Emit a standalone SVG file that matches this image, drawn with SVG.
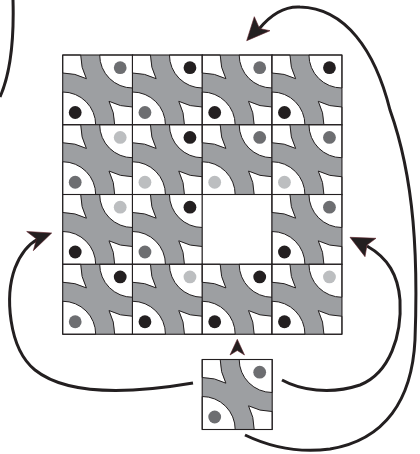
<svg xmlns="http://www.w3.org/2000/svg" xmlns:xlink="http://www.w3.org/1999/xlink" width="420" height="454" viewBox="0 0 420 454">
<style>
.w{fill:#fff;stroke:#231f20;stroke-width:1}
.k{fill:#231f20}
.d{fill:#6d6e71}
.l{fill:#bcbec0}
.conn{fill:none;stroke:#231f20;stroke-width:3;stroke-linecap:butt}
.head{fill:#231f20;stroke:#5e1f27;stroke-width:0.6;stroke-linejoin:miter}
</style>
<defs>
<g id="tb">
<rect width="70" height="70" fill="#9d9fa2"/>
<path class="w" d="M0,0 H18 A52,52 0 0 0 23.7,23.7 A52,52 0 0 0 0,18 Z"/>
<path class="w" d="M70,70 V52 A52,52 0 0 1 46.3,46.3 A52,52 0 0 1 52,70 Z"/>
<path class="w" d="M70,0 H37 A33,33 0 0 0 70,33 Z"/>
<path class="w" d="M0,70 V37 A33,33 0 0 1 33,70 Z"/>
<rect width="70" height="70" fill="none" stroke="#231f20" stroke-width="1.1"/>
</g>
</defs>
<rect width="420" height="454" fill="#fff"/>

<g id="tile-r1c1" transform="translate(62.7,55)"><use href="#tb"/><circle class="d" cx="57.5" cy="12.7" r="6.4"/><circle class="k" cx="12.5" cy="57.5" r="6.4"/></g>
<g id="tile-r1c2" transform="translate(132.45,55)"><use href="#tb"/><circle class="k" cx="57.5" cy="12.7" r="6.4"/><circle class="d" cx="12.5" cy="57.5" r="6.4"/></g>
<g id="tile-r1c3" transform="translate(202.2,55)"><use href="#tb"/><circle class="d" cx="57.5" cy="12.7" r="6.4"/><circle class="k" cx="12.5" cy="57.5" r="6.4"/></g>
<g id="tile-r1c4" transform="translate(271.95,55)"><use href="#tb"/><circle class="k" cx="57.5" cy="12.7" r="6.4"/><circle class="k" cx="12.5" cy="57.5" r="6.4"/></g>

<g id="tile-r2c1" transform="translate(62.7,124.75)"><use href="#tb"/><circle class="l" cx="57.5" cy="12.7" r="6.4"/><circle class="d" cx="12.5" cy="57.5" r="6.4"/></g>
<g id="tile-r2c2" transform="translate(132.45,124.75)"><use href="#tb"/><circle class="k" cx="57.5" cy="12.7" r="6.4"/><circle class="l" cx="12.5" cy="57.5" r="6.4"/></g>
<g id="tile-r2c3" transform="translate(202.2,124.75)"><use href="#tb"/><circle class="d" cx="57.5" cy="12.7" r="6.4"/><circle class="l" cx="12.5" cy="57.5" r="6.4"/></g>
<g id="tile-r2c4" transform="translate(271.95,124.75)"><use href="#tb"/><circle class="d" cx="57.5" cy="12.7" r="6.4"/><circle class="l" cx="12.5" cy="57.5" r="6.4"/></g>

<g id="tile-r3c1" transform="translate(62.7,194.5)"><use href="#tb"/><circle class="l" cx="57.5" cy="12.7" r="6.4"/><circle class="k" cx="12.5" cy="57.5" r="6.4"/></g>
<g id="tile-r3c2" transform="translate(132.45,194.5)"><use href="#tb"/><circle class="k" cx="57.5" cy="12.7" r="6.4"/><circle class="d" cx="12.5" cy="57.5" r="6.4"/></g>
<g id="hole-r3c3" transform="translate(202.2,194.5)"><rect width="70" height="70" fill="#fff" stroke="#231f20" stroke-width="1.1"/></g>
<g id="tile-r3c4" transform="translate(271.95,194.5)"><use href="#tb"/><circle class="d" cx="57.5" cy="12.7" r="6.4"/><circle class="k" cx="12.5" cy="57.5" r="6.4"/></g>

<g id="tile-r4c1" transform="translate(62.7,264.25)"><use href="#tb"/><circle class="k" cx="57.5" cy="12.7" r="6.4"/><circle class="d" cx="12.5" cy="57.5" r="6.4"/></g>
<g id="tile-r4c2" transform="translate(132.45,264.25)"><use href="#tb"/><circle class="l" cx="57.5" cy="12.7" r="6.4"/><circle class="k" cx="12.5" cy="57.5" r="6.4"/></g>
<g id="tile-r4c3" transform="translate(202.2,264.25)"><use href="#tb"/><circle class="k" cx="57.5" cy="12.7" r="6.4"/><circle class="k" cx="12.5" cy="57.5" r="6.4"/></g>
<g id="tile-r4c4" transform="translate(271.95,264.25)"><use href="#tb"/><circle class="l" cx="57.5" cy="12.7" r="6.4"/><circle class="k" cx="12.5" cy="57.5" r="6.4"/></g>

<g id="tile-loose" transform="translate(202.2,359.5)"><use href="#tb"/><circle class="d" cx="57.5" cy="12.7" r="6.4"/><circle class="d" cx="12.5" cy="57.5" r="6.4"/></g>

<g id="connectors">
<path class="conn" d="M13,0 C14,35 12,70 0,97"/>
<path class="conn" d="M193,383 C140,392 70,398 35,370 C8,348 5,295 15,268 C20,255 27,245 38,239"/>
<path class="head" d="M51.7,233 L26.7,231.5 L36.5,239 L33.3,250.7 Z"/>
<path class="conn" d="M282,380 C300,390 330,395 360,385 C390,373 402,335 400,300 C398,275 388,258 367,246"/>
<path class="head" d="M350,237.3 L376,238.3 L367,245 L365,256.7 Z"/>
<path class="conn" d="M245,435 C270,447 300,453 330,449 C385,440 412,400 415,340 C418,260 415,180 390,110 C375,50 345,8 300,7 C282,6 268,18 259,29"/>
<path class="head" d="M246.7,40.7 L254.3,16.7 L259.5,28.5 L270,30.7 Z"/>
<path class="head" d="M237.3,339.3 L230,355 L237.3,350.5 L244.5,355 Z"/>
</g>
</svg>
